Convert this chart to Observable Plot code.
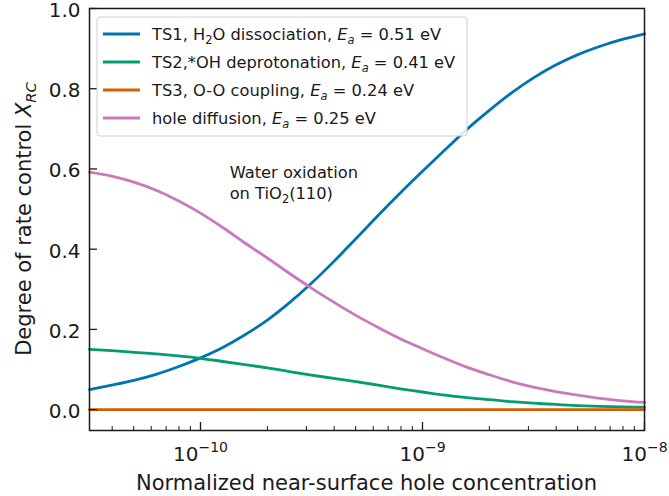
<!DOCTYPE html>
<html><head><meta charset="utf-8">
<script src="https://cdn.jsdelivr.net/npm/d3@7"></script>
<script src="https://cdn.jsdelivr.net/npm/@observablehq/plot@0.6"></script>
<style>
body{margin:0;background:#fff;font-family:"DejaVu Sans",sans-serif}
#chart{width:669px;height:496px}
</style>
</head><body><div id="chart"></div>
<script>
// Normalized near-surface hole concentration (x)
const holeConc = [3.16e-11, 3.98e-11, 5.01e-11, 6.31e-11, 7.94e-11,
  1.0e-10, 1.26e-10, 1.58e-10, 2.0e-10, 2.51e-10, 3.16e-10, 3.98e-10, 5.01e-10, 6.31e-10, 7.94e-10,
  1.0e-9, 1.26e-9, 1.58e-9, 2.0e-9, 2.51e-9, 3.16e-9, 3.98e-9, 5.01e-9, 6.31e-9, 7.94e-9, 1.0e-8];
// Degree of rate control per process
const ts1 = [0.050, 0.061, 0.073, 0.088, 0.107, 0.129, 0.155, 0.186, 0.223, 0.266, 0.315, 0.369, 0.426, 0.484, 0.540, 0.594,
  0.647, 0.698, 0.746, 0.789, 0.827, 0.859, 0.885, 0.906, 0.923, 0.937];
const ts2 = [0.150, 0.147, 0.143, 0.139, 0.134, 0.128, 0.120, 0.112, 0.104, 0.095, 0.086, 0.078, 0.070, 0.061, 0.052, 0.044,
  0.036, 0.030, 0.025, 0.020, 0.016, 0.013, 0.010, 0.008, 0.007, 0.006];
const ts3 = [0, 0, 0, 0, 0, 0, 0, 0, 0, 0, 0, 0, 0, 0, 0, 0, 0, 0, 0, 0, 0, 0, 0, 0, 0, 0];
const holeDiff = [0.592, 0.582, 0.567, 0.547, 0.521, 0.490, 0.454, 0.416, 0.378, 0.340, 0.303, 0.268, 0.235, 0.205, 0.177, 0.152,
  0.128, 0.106, 0.087, 0.070, 0.056, 0.045, 0.036, 0.028, 0.022, 0.018];

const seriesKeys = ["TS1", "TS2", "TS3", "hole"];
const seriesColors = ["#0173b2", "#029e73", "#d55e00", "#cc78bc"];
const legendLabels = [
  [{t:"TS1, H"},{t:"2",sub:true},{t:"O dissociation, "},{t:"E",it:true},{t:"a",it:true,sub:true},{t:" = 0.51 eV"}],
  [{t:"TS2,*OH deprotonation, "},{t:"E",it:true},{t:"a",it:true,sub:true},{t:" = 0.41 eV"}],
  [{t:"TS3, O-O coupling, "},{t:"E",it:true},{t:"a",it:true,sub:true},{t:" = 0.24 eV"}],
  [{t:"hole diffusion, "},{t:"E",it:true},{t:"a",it:true,sub:true},{t:" = 0.25 eV"}]
];
const yTicks = [0.0, 0.2, 0.4, 0.6, 0.8, 1.0];
const xMajorTicks = [1e-10, 1e-9, 1e-8];
const xMinorTicks = [4e-11, 5e-11, 6e-11, 7e-11, 8e-11, 9e-11,
  2e-10, 3e-10, 4e-10, 5e-10, 6e-10, 7e-10, 8e-10, 9e-10,
  2e-9, 3e-9, 4e-9, 5e-9, 6e-9, 7e-9, 8e-9, 9e-9];
const xLabel = "Normalized near-surface hole concentration";
const yLabelParts = [{t:"Degree of rate control "},{t:"X",it:true},{t:"RC",it:true,sub:true}];
const noteLine1 = [{t:"Water oxidation"}];
const noteLine2 = [{t:"on TiO"},{t:"2",sub:true},{t:"(110)"}];
const notePos = {x: 1.36e-10, y: 0.575};

const allSeries = [ts1, ts2, ts3, holeDiff];
const rows = [];
allSeries.forEach((vals, si) => vals.forEach((v, i) => rows.push({x: holeConc[i], y: v, series: seriesKeys[si]})));

const FONT = "DejaVu Sans";
const INK = "#1a1a1a";

const svg = Plot.plot({
  width: 669, height: 496,
  marginLeft: 89, marginRight: 25, marginTop: 8, marginBottom: 66,
  style: {fontFamily: FONT, color: INK, background: "#fff"},
  x: {type: "log", domain: [3.1623e-11, 1e-8]},
  y: {domain: [-0.052, 1.0]},
  color: {domain: seriesKeys, range: seriesColors},
  marks: [
    Plot.line(rows, {x: "x", y: "y", z: "series", stroke: "series", strokeWidth: 2.8, curve: "monotone-x"}),
    Plot.frame({stroke: INK, strokeWidth: 1.5}),
    Plot.axisY(yTicks, {tickSize: -8, tickPadding: 17, tickFormat: d3.format(".1f"), fontSize: 20, label: null, strokeWidth: 1.3}),
    Plot.axisX(xMajorTicks, {tickSize: -8, tickPadding: 24, tickFormat: d => String(Math.round(Math.log10(d))), fontSize: 20, label: null, strokeWidth: 1.3}),
    Plot.axisX(xMinorTicks, {tickSize: -4, tickFormat: () => "", label: null, strokeWidth: 1})
  ]
});

const root = d3.select(svg);

function rich(sel, parts, size) {
  let shifted = 0;
  parts.forEach(p => {
    const ts = sel.append("tspan").text(p.t);
    if (p.it) ts.attr("font-style", "italic");
    let target = 0;
    if (p.sub) { ts.attr("font-size", size * 0.7); target = size * 0.22; }
    if (p.sup) { ts.attr("font-size", size * 0.7); target = -size * 0.45; }
    if (target !== shifted) { ts.attr("dy", target - shifted); shifted = target; }
  });
}

// nudge y tick labels slightly down (text only)
root.selectAll('g[aria-label="y-axis tick label"]').attr("transform", function() {
  const t = this.getAttribute("transform") || "";
  return t + " translate(0,2)";
});

// x tick labels as 10^n with superscript (skip the empty minor labels)
root.selectAll('g[aria-label="x-axis tick label"] text').each(function() {
  const el = d3.select(this);
  const exp = el.text();
  if (!exp) return;
  el.text(null);
  rich(el, [{t:"10"},{t:exp.replace("-", "\u2212"),sup:true}], 20);
});

const g = root.append("g").attr("font-family", FONT).attr("fill", INK);

// axis labels
rich(g.append("text").attr("x", 366.5).attr("y", 490).attr("text-anchor", "middle").attr("font-size", 21), [{t:xLabel}], 21);
rich(g.append("text").attr("transform", "translate(31,219) rotate(-90)").attr("text-anchor", "middle").attr("font-size", 21), yLabelParts, 21);

// annotation
const sx = svg.scale("x"), sy = svg.scale("y");
const nx = sx.apply(notePos.x), ny = sy.apply(notePos.y);
rich(g.append("text").attr("x", nx).attr("y", ny).attr("text-anchor", "start").attr("font-size", 16.3), noteLine1, 16.3);
rich(g.append("text").attr("x", nx).attr("y", ny + 21).attr("text-anchor", "start").attr("font-size", 16.3), noteLine2, 16.3);

// legend
const lg = g.append("g");
lg.append("rect").attr("x", 97).attr("y", 17).attr("width", 370).attr("height", 119).attr("rx", 3)
  .attr("fill", "#fff").attr("fill-opacity", 0.85).attr("stroke", "#cfcfcf").attr("stroke-width", 1);
legendLabels.forEach((parts, i) => {
  const yy = 34 + i * 28;
  lg.append("line").attr("x1", 103).attr("x2", 140).attr("y1", yy).attr("y2", yy)
    .attr("stroke", seriesColors[i]).attr("stroke-width", 2.8);
  rich(lg.append("text").attr("x", 152).attr("y", yy + 6).attr("text-anchor", "start").attr("font-size", 16.3), parts, 16.3);
});

document.getElementById("chart").appendChild(svg);
</script>
</body></html>
